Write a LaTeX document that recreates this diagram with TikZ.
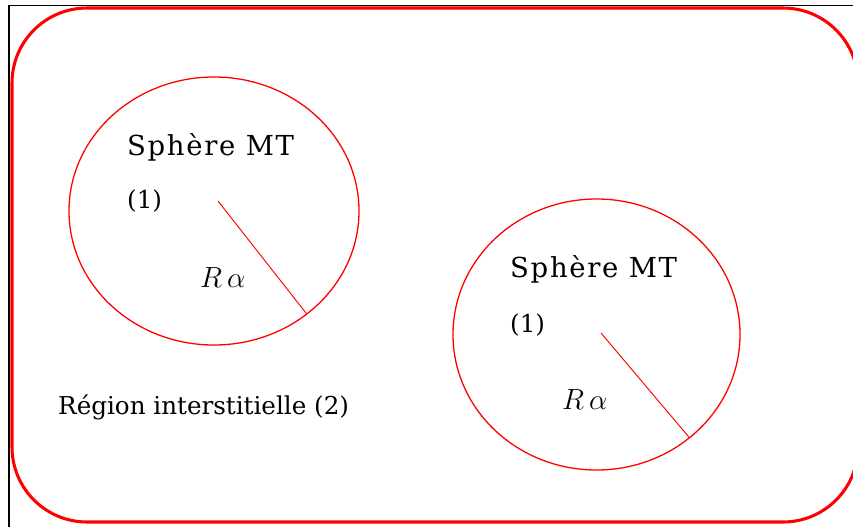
\documentclass[tikz,border=0pt]{standalone}
\usepackage{fontspec}
\setmainfont{DejaVu Serif}
\usepackage{amsmath}
\usetikzlibrary{shapes.geometric}
\definecolor{brightred}{RGB}{255,0,0}

\begin{document}
\begin{tikzpicture}[
  x=0.03cm, y=-0.03cm,
  sphere/.style={draw=brightred, ellipse, line width=1.1pt, inner sep=0pt, outer sep=0pt},
  radius/.style={draw=brightred, line width=0.8pt},
  lbl/.style={anchor=base west, inner sep=0pt, font=\fontsize{21}{25}\selectfont},
  wlbl/.style={lbl, font=\fontsize{23.5}{28}\selectfont\addfontfeature{LetterSpace=6}},
  rlbl/.style={anchor=base west, inner sep=0pt, font=\fontsize{23}{28}\selectfont}
]
\useasboundingbox (0,0) rectangle (853,526);
\draw[black, line width=1.2pt] (9,5.5) rectangle (870,540);
\draw[brightred, line width=2.6pt, rounded corners=2.25cm] (12,8) rectangle (858,522);
\node[sphere, minimum width=8.7cm, minimum height=8.04cm] (sph1) at (214,211) {};
\node[sphere, minimum width=8.61cm, minimum height=8.13cm] (sph2) at (596.5,334.5) {};
\coordinate (o1) at (218,201);
\coordinate (o2) at (601,333);
\draw[radius] (o1) -- (sph1.-48.5);
\draw[radius] (o2) -- (sph2.-48.3);
\node[wlbl] (name1) at (127,155) {Sphère MT};
\node[lbl] (num1) at (127,208) {(1)};
\node[rlbl] (ra1) at (200,287) {$R\,\alpha$};
\node[wlbl] (name2) at (510,277) {Sphère MT};
\node[lbl] (num2) at (510,332) {(1)};
\node[rlbl] (ra2) at (562,409) {$R\,\alpha$};
\node[lbl] (inter) at (58,414) {Région interstitielle (2)};
\end{tikzpicture}
\end{document}
